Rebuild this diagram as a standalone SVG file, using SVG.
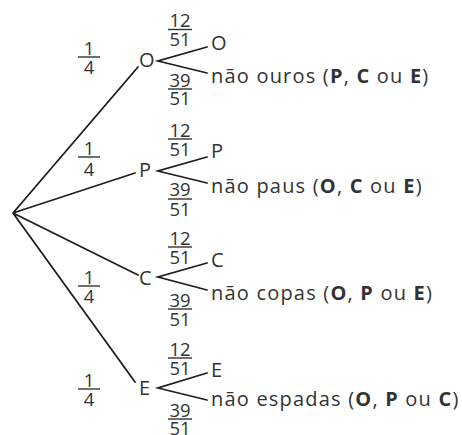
<svg xmlns="http://www.w3.org/2000/svg" width="462" height="435" viewBox="0 0 462 435">
<style>
.ln{stroke:#1e1e1e;stroke-width:1.8;fill:none;stroke-linecap:round}
.bar{stroke:#333;stroke-width:1.4}
.t{font-family:"Open Sans","Liberation Sans",sans-serif;font-size:20px;fill:#333;letter-spacing:1.2px}
.f{font-family:"Open Sans","Liberation Sans",sans-serif;font-size:18.5px;fill:#333;text-anchor:middle}
.b{font-weight:bold}
</style>
<rect width="462" height="435" fill="#fff"/>
<g id="connectors">
<path class="ln" d="M13 213L138 67M13 213L135 173M13 213L138 275M13 213L135 382"/>
<path class="ln" d="M207 47L158 61L207 73"/>
<path class="ln" d="M207 157L158 171L207 183"/>
<path class="ln" d="M207 263L158 277L207 290"/>
<path class="ln" d="M207 373L158 388L207 400"/>
</g>
<g id="labels">
<g id="p-O"><text class="f" x="89" y="55">1</text><line class="bar" x1="78" y1="57" x2="100" y2="57"/><text class="f" x="89" y="74">4</text></g>
<g id="p-P"><text class="f" x="89" y="155">1</text><line class="bar" x1="78" y1="157" x2="100" y2="157"/><text class="f" x="89" y="176">4</text></g>
<g id="p-C"><text class="f" x="89" y="284">1</text><line class="bar" x1="78" y1="286" x2="100" y2="286"/><text class="f" x="89" y="303">4</text></g>
<g id="p-E"><text class="f" x="89" y="387">1</text><line class="bar" x1="78" y1="389" x2="100" y2="389"/><text class="f" x="89" y="406">4</text></g>
<g id="p-OO"><text class="f" x="180" y="27">12</text><line class="bar" x1="168" y1="29.5" x2="192" y2="29.5"/><text class="f" x="180" y="46">51</text></g>
<g id="p-On"><text class="f" x="180" y="87">39</text><line class="bar" x1="168" y1="89" x2="192" y2="89"/><text class="f" x="180" y="105">51</text></g>
<g id="p-PP"><text class="f" x="180" y="137">12</text><line class="bar" x1="168" y1="139" x2="192" y2="139"/><text class="f" x="180" y="156">51</text></g>
<g id="p-Pn"><text class="f" x="180" y="196">39</text><line class="bar" x1="168" y1="199" x2="192" y2="199"/><text class="f" x="180" y="216">51</text></g>
<g id="p-CC"><text class="f" x="180" y="245">12</text><line class="bar" x1="168" y1="247" x2="192" y2="247"/><text class="f" x="180" y="264">51</text></g>
<g id="p-Cn"><text class="f" x="180" y="307">39</text><line class="bar" x1="168" y1="309" x2="192" y2="309"/><text class="f" x="180" y="326">51</text></g>
<g id="p-EE"><text class="f" x="180" y="356">12</text><line class="bar" x1="168" y1="358" x2="192" y2="358"/><text class="f" x="180" y="375">51</text></g>
<g id="p-En"><text class="f" x="180" y="417">39</text><line class="bar" x1="168" y1="419" x2="192" y2="419"/><text class="f" x="180" y="435">51</text></g>
</g>
<g id="node-root"/>
<g id="node-O"><text class="t" x="139" y="67">O</text></g>
<g id="node-P"><text class="t" x="139" y="177">P</text></g>
<g id="node-C"><text class="t" x="139" y="285">C</text></g>
<g id="node-E"><text class="t" x="139" y="395">E</text></g>
<g id="node-O-O"><text class="t" x="211" y="50">O</text></g>
<g id="node-O-n"><text class="t" x="211" y="83">não ouros (<tspan class="b">P</tspan>, <tspan class="b">C</tspan> ou <tspan class="b">E</tspan>)</text></g>
<g id="node-P-P"><text class="t" x="211" y="158">P</text></g>
<g id="node-P-n"><text class="t" x="211" y="193">não paus (<tspan class="b">O</tspan>, <tspan class="b">C</tspan> ou <tspan class="b">E</tspan>)</text></g>
<g id="node-C-C"><text class="t" x="211" y="267">C</text></g>
<g id="node-C-n"><text class="t" x="211" y="300">não copas (<tspan class="b">O</tspan>, <tspan class="b">P</tspan> ou <tspan class="b">E</tspan>)</text></g>
<g id="node-E-E"><text class="t" x="211" y="377">E</text></g>
<g id="node-E-n"><text class="t" x="211" y="406">não espadas (<tspan class="b">O</tspan>, <tspan class="b">P</tspan> ou <tspan class="b">C</tspan>)</text></g>
</svg>
